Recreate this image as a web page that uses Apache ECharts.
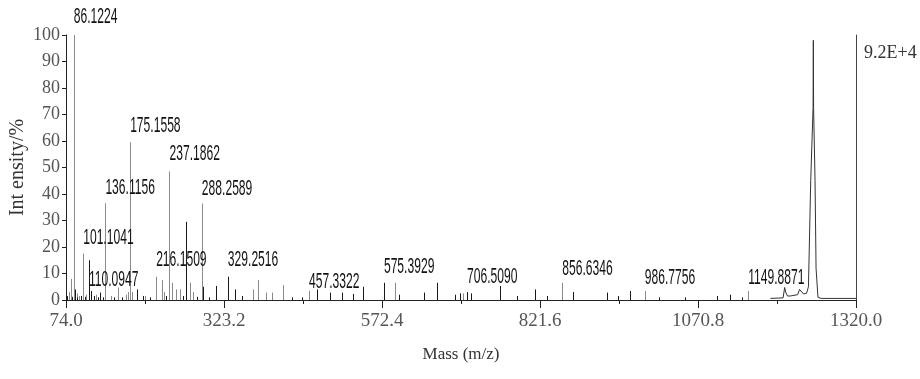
<!DOCTYPE html>
<html>
<head>
<meta charset="utf-8">
<script src="https://cdn.jsdelivr.net/npm/echarts@6/dist/echarts.min.js"></script>
<style>
html,body{margin:0;padding:0;background:#fff;}
#chart{width:920px;height:379px;}
</style>
</head>
<body>
<div id="chart"></div>
<script>
// ---- data ----
const xTicks = [74.0, 323.2, 572.4, 821.6, 1070.8, 1320.0];
const xMinorTicks = [198.6, 447.8, 697.0, 946.2, 1195.4];
const basePeakIntensity = '9.2E+4';

// light (grey) sticks: [m/z, relative intensity %]
const greyPeaks = [
  [78, 3], [81.5, 8], [86.1224, 100], [92, 2.5], [95, 1.5], [101.1041, 17.5], [106, 2], [121, 2],
  [136.1156, 36.5], [145, 1.5], [156.5, 4.7], [168, 2], [172, 3], [175.1558, 59.5], [178, 3],
  [199, 1.5], [216.1509, 8.8], [225, 7.5], [228, 3], [237.1862, 48.5], [241.7, 6.5],
  [247.5, 4], [253.8, 4], [269.6, 6.5], [274, 3], [288.2589, 36.4], [368.5, 4], [377.3, 7.6],
  [389.5, 2.8], [398.5, 2.8], [415.7, 5.6], [457.3322, 3.5], [593, 6.5], [700, 2.5],
  [856.6346, 6.5], [986.7756, 3.4], [1149.8871, 3.4]
];
// dark (black) sticks
const darkPeaks = [
  [76, 1.5], [84, 1.2], [88, 4], [91, 1], [98, 1.5], [104, 1.2], [110.0947, 15], [113, 3.4],
  [118, 1.5], [124, 1], [127.6, 2.8], [132, 1], [150, 1], [162, 1], [186.5, 4], [196, 1.5],
  [206, 1], [232, 1.5], [258, 1.5], [263.3, 29.5], [280, 1.2], [290.5, 5], [300, 1], [310, 5.3],
  [329.2516, 8.8], [341, 4], [352, 1.5], [430, 1], [446, 1], [469.4, 4],
  [490, 2.8], [509, 2.8], [527, 2.3], [543, 5], [575.3929, 6.5], [600, 2], [639, 2.8],
  [658.7, 6.5], [687.5, 2], [696, 2.5], [706.509, 3], [712, 2.5], [758.5, 5.3], [785, 1.5],
  [813.7, 4], [832, 1.5], [874, 3], [926.8, 2.8], [945, 1.5], [963.6, 3.4], [1010, 1],
  [1050, 1], [1100, 1.5], [1121, 2], [1140, 1]
];
// profile trace of the base-peak region
const profileMz = [1185, 1205, 1207.5, 1209, 1212, 1216, 1228, 1231, 1234, 1237, 1242, 1245, 1248.6, 1252.3, 1252.7, 1253.1, 1255.4, 1257, 1260, 1265, 1320];
const profileInt = [0.6, 0.8, 4.7, 3, 1.5, 1.5, 2, 4, 3.8, 2.3, 2.5, 5, 45, 72.7, 98, 72.7, 45, 12, 1, 0.6, 0.6];

// peak annotations
const labelText = ['86.1224', '101.1041', '110.0947', '136.1156', '175.1558', '216.1509', '237.1862', '288.2589', '329.2516', '457.3322', '575.3929', '706.5090', '856.6346', '986.7756', '1149.8871'];
const labelMz = [86.1224, 101.1041, 110.0947, 136.1156, 175.1558, 216.1509, 237.1862, 288.2589, 329.2516, 457.3322, 575.3929, 706.509, 856.6346, 986.7756, 1149.8871];
const labelLevel = [102.7, 19.3, 3.4, 38.3, 61.4, 11.0, 50.8, 37.9, 11.0, 2.7, 8.3, 4.5, 7.6, 4.2, 4.2];

// ---- chart ----
const chart = echarts.init(document.getElementById('chart'), null, {renderer: 'canvas'});
const serif = '"Liberation Serif", "DejaVu Serif", serif';

function stickSeries(data, color) {
  return {
    type: 'custom',
    xAxisIndex: 0, yAxisIndex: 0,
    data: data,
    encode: {x: 0, y: 1},
    renderItem: function (params, api) {
      const p0 = api.coord([api.value(0), 0]);
      const p1 = api.coord([api.value(0), api.value(1)]);
      const x = Math.round(p0[0]) + 0.5;
      return {type: 'line', shape: {x1: x, y1: p0[1], x2: x, y2: p1[1]}, style: {stroke: color, lineWidth: 1}};
    },
    silent: true
  };
}

const option = {
  animation: false,
  backgroundColor: '#fff',
  grid: {left: 66, right: 64, top: 35, bottom: 79, containLabel: false, outerBoundsMode: 'none'},
  xAxis: [{
    type: 'value', min: 74, max: 1320,
    name: 'Mass (m/z)', nameLocation: 'middle', nameGap: 46, nameMoveOverlap: false,
    nameTextStyle: {fontFamily: serif, fontSize: 17, color: '#333'},
    axisLine: {show: true, lineStyle: {color: '#222', width: 1}},
    axisTick: {show: true, customValues: xTicks, length: 8, lineStyle: {color: '#222'}},
    axisLabel: {show: true, customValues: xTicks, formatter: v => v.toFixed(1), fontFamily: serif, fontSize: 19, color: '#555', margin: 12},
    splitLine: {show: false}
  }, {
    type: 'value', min: 74, max: 1320, position: 'bottom',
    axisLine: {show: false},
    axisTick: {show: true, customValues: xMinorTicks, length: 4, lineStyle: {color: '#222'}},
    axisLabel: {show: false},
    splitLine: {show: false}
  }],
  yAxis: [{
    type: 'value', min: 0, max: 100, interval: 10,
    name: 'Int ensity/%', nameLocation: 'middle', nameGap: 38, nameRotate: 90, nameMoveOverlap: false,
    nameTextStyle: {fontFamily: serif, fontSize: 20, color: '#333'},
    axisLine: {show: true, lineStyle: {color: '#222', width: 1}},
    axisTick: {show: true, length: 4, lineStyle: {color: '#222'}},
    axisLabel: {fontFamily: serif, fontSize: 18, color: '#555', margin: 6},
    splitLine: {show: false}
  }, {
    type: 'value', min: 0, max: 100, position: 'right',
    axisLine: {show: true, lineStyle: {color: '#444', width: 1}},
    axisTick: {show: false}, axisLabel: {show: false}, splitLine: {show: false}
  }],
  graphic: [{
    type: 'text', left: 864, top: 44,
    style: {text: basePeakIntensity, font: '18px ' + serif, fill: '#333'}
  }],
  series: [
    stickSeries(greyPeaks, '#8a8a8a'),
    stickSeries(darkPeaks, '#1a1a1a'),
    {
      type: 'line', xAxisIndex: 0, yAxisIndex: 0,
      data: profileMz.map((m, i) => [m, profileInt[i]]),
      symbol: 'none', lineStyle: {color: '#333', width: 1}, silent: true
    },
    {
      type: 'custom', xAxisIndex: 0, yAxisIndex: 0,
      data: labelMz.map((m, i) => [m, labelLevel[i]]),
      encode: {x: 0, y: 1},
      renderItem: function (params, api) {
        const p = api.coord([api.value(0), api.value(1)]);
        return {
          type: 'text', x: p[0], y: p[1], scaleX: 0.55,
          style: {text: labelText[params.dataIndex], font: '22px "Liberation Sans", Arial, sans-serif', fill: '#111', align: 'left', verticalAlign: 'bottom'}
        };
      },
      clip: false, silent: true, z: 5
    }
  ]
};
chart.setOption(option);
</script>
</body>
</html>
